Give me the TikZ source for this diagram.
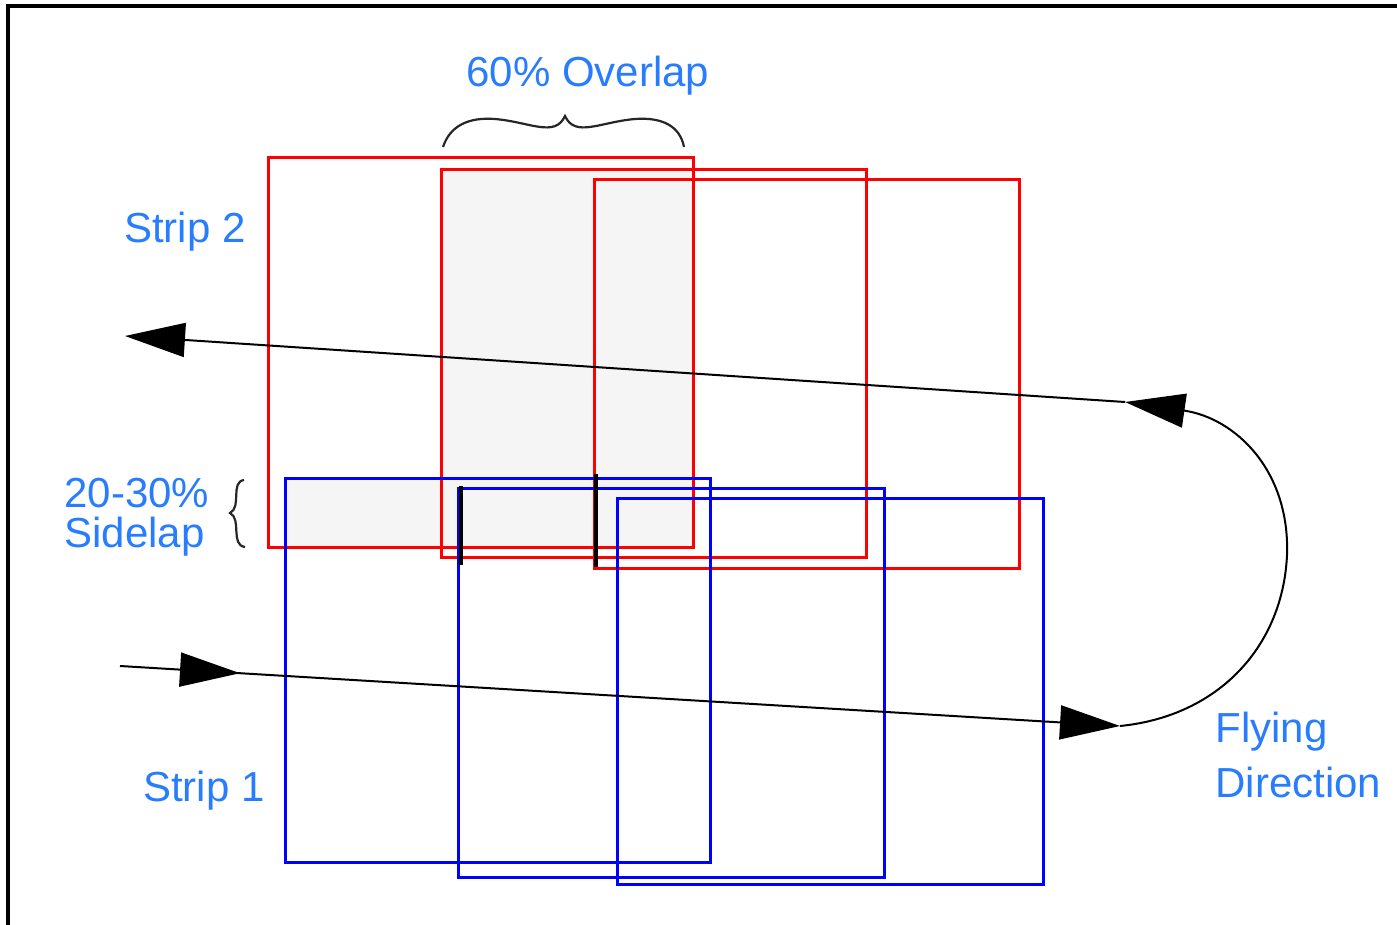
\documentclass[tikz,border=0pt]{standalone}
\usepackage{fontspec}
\setmainfont{Liberation Sans}
\usetikzlibrary{arrows.meta,decorations.markings}
\definecolor{lblue}{RGB}{40,125,255}
\definecolor{lightshade}{RGB}{245,245,245}
\tikzset{
  redrect/.style={draw={rgb,255:red,255;green,0;blue,0}, line width=1.5pt},
  bluerect/.style={draw={rgb,255:red,0;green,0;blue,255}, line width=1.5pt},
  lbl/.style={text=lblue, font=\fontsize{21}{25}\selectfont, inner sep=0pt},
  flight/.style={line width=1pt, draw=black},
  tri/.style={-{Triangle[length=30pt,width=17pt]}},
  bracepath/.style={line width=1.1pt, draw=black!85},
  blackmark/.style={line width=2pt, draw=black},
  overlapfill/.style={fill=lightshade}
}
\begin{document}
\begin{tikzpicture}[x=0.5pt,y=-0.5pt]
\useasboundingbox (0,0) rectangle (1397,925);
% frame
\draw[line width=1.6pt] (8,925) -- (8,6) -- (1397,6);
% shading
\path[overlapfill] (441,170) rectangle (693,547);
\path[overlapfill] (285,478) rectangle (441,547);
% red rectangles (strip 2)
\draw[redrect] (268,158) rectangle (693,547);
\draw[redrect] (441,170) rectangle (866,557);
\draw[redrect] (594,180) rectangle (1019,568);
% blue rectangles (strip 1)
\draw[bluerect] (285,478) rectangle (710,862);
\draw[bluerect] (458,488) rectangle (884,877);
\draw[bluerect] (617,498) rectangle (1043,884);
% black marks
\draw[blackmark] (461,486) -- (461,565);
\draw[blackmark] (596,474) -- (596,567);
% coordinates
\coordinate (s1a) at (120,666);
\coordinate (s1b) at (1120,726);
\coordinate (s2a) at (1125,402);
\coordinate (s2b) at (125,336);
\coordinate (turn) at (1287,555);
% strip 1 line
\draw[flight, tri, postaction={decorate},
  decoration={markings, mark=at position 0.12 with {\arrow{Triangle[length=30pt,width=17pt]}}}]
  (s1a) -- (s1b);
% turn
\draw[flight, tri] (s1b) .. controls (1220,716) and (1283,645) .. (turn)
  .. controls (1290,470) and (1235,418) .. (s2a);
% strip 2 line
\draw[flight, tri] (s2a) -- (s2b);
% overlap brace
\draw[bracepath] (443,147) .. controls (450,126) and (468,117) .. (495,119)
  .. controls (530,122) and (555,138) .. (565,116)
  .. controls (575,138) and (600,122) .. (635,119)
  .. controls (662,117) and (680,126) .. (684,147);
% sidelap brace
\draw[bracepath] (244,480) .. controls (230,482) and (242,507) .. (230,513)
  .. controls (242,519) and (230,545) .. (245,547);
% labels
\node[lbl] (ov) at (588,76) {60\% Overlap};
\node[lbl] (st2) at (185,232) {Strip 2};
\node[lbl, anchor=west] (sl1) at (64,493) {20-30\%};
\node[lbl, anchor=west] (sl2) at (64,537) {Sidelap};
\node[lbl] (st1) at (204,791) {Strip 1};
\node[lbl, anchor=west] (fd1) at (1215,732) {Flying};
\node[lbl, anchor=west] (fd2) at (1215,782) {Direction};
\end{tikzpicture}
\end{document}
